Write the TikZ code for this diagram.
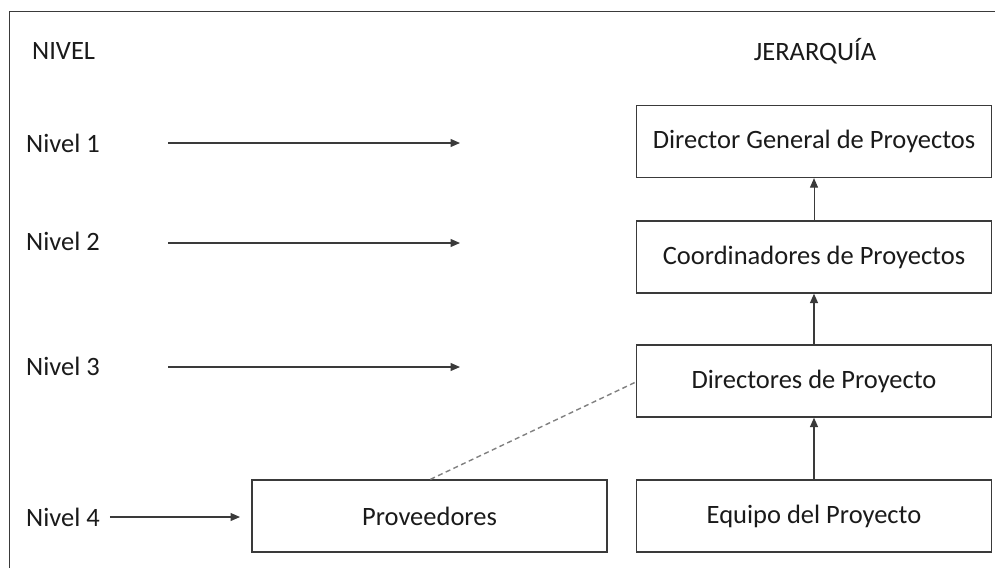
\documentclass[tikz,border=0pt]{standalone}
\usepackage{fontspec}
\setmainfont{Carlito}
\usetikzlibrary{arrows.meta,calc}
\definecolor{ink}{HTML}{1A1A1A}
\definecolor{edge}{HTML}{3A3A3A}
\begin{document}
\begin{tikzpicture}[x=1pt,y=-1pt,
  font=\fontsize{26.5}{30}\selectfont, text=ink,
  box/.style={draw=edge, line width=1.3pt, minimum width=355pt, minimum height=72pt, inner sep=0pt},
  lbl/.style={anchor=west, inner sep=0pt},
  link/.style={draw=edge, line width=1.2pt, -{Triangle[length=9.5pt,width=8pt]}},
  tie/.style={draw=gray, line width=1.4pt, dash pattern=on 5pt off 3.5pt}]
  \useasboundingbox (0,0) rectangle (995,568);
  % frame
  \draw[edge, line width=1pt] (9,568) -- (9,11) -- (995,11);

  % column headings
  \node[lbl] (hNivel) at (32,51) {NIVEL};
  \node (hJer) at (815,51) {JERARQUÍA};

  % level labels
  \node[lbl] (n1) at (26,143) {Nivel 1};
  \node[lbl] (n2) at (26,241) {Nivel 2};
  \node[lbl] (n3) at (26,366) {Nivel 3};
  \node[lbl] (n4) at (26,517) {Nivel 4};

  % hierarchy boxes
  \node[box] (dg)  at (814,141.5) {Director General de Proyectos};
  \node[box] (cp)  at (814,257)   {Coordinadores de Proyectos};
  \node[box] (dp)  at (814,381)   {Directores de Proyecto};
  \node[box] (eq)  at (814,516)   {Equipo del Proyecto};
  \node[box] (pv)  at (429.5,516) {Proveedores};

  % level arrow ends
  \coordinate (a1) at (168,143); \coordinate (b1) at (460,143);
  \coordinate (a2) at (168,243); \coordinate (b2) at (460,243);
  \coordinate (a3) at (168,367); \coordinate (b3) at (460,367);
  \coordinate (b4) at (240,517);

  \draw[link] (a1) -- (b1);
  \draw[link] (a2) -- (b2);
  \draw[link] (a3) -- (b3);
  \draw[link] ($(n4.east)+(10,0)$) -- (b4);

  % reporting lines
  \draw[link, line width=1pt] (cp.north) -- (dg.south);
  \draw[link, line width=1.5pt] (dp.north) -- (cp.south);
  \draw[link, line width=1.5pt] (eq.north) -- (dp.south);

  % supplier link
  \draw[tie] ($(pv.north west)+(179,0)$) -- ($(dp.west)+(0,1)$);
\end{tikzpicture}
\end{document}
